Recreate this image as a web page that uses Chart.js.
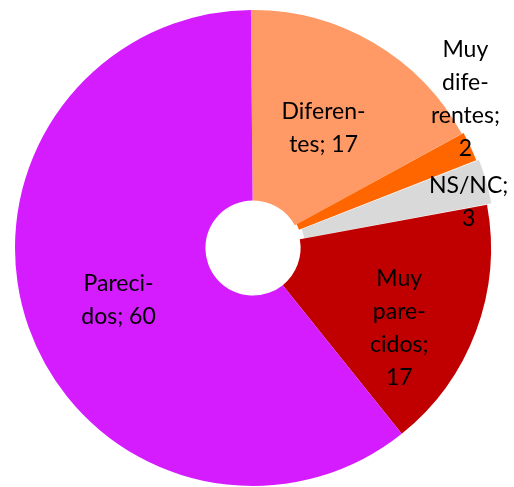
<!DOCTYPE html>
<html>
<head>
<meta charset="utf-8">
<script src="https://cdn.jsdelivr.net/npm/chart.js@4/dist/chart.umd.min.js"></script>
<style>
  html, body { margin: 0; padding: 0; background: #fff; }
  #wrap { width: 514px; height: 487px; position: relative; }
</style>
</head>
<body>
<div id="wrap"><canvas id="pieChart"></canvas></div>
<script>
// 데이터
const categories = ['Diferentes', 'Muy diferentes', 'NS/NC', 'Muy parecidos', 'Parecidos'];
const values = [17, 2, 3, 17, 60];
// 라벨 줄바꿈 ({v} 자리에 값이 들어감)
const labelLines = [
  ['Diferen-', 'tes; {v}'],
  ['Muy', 'dife-', 'rentes;', '{v}'],
  ['NS/NC;', '{v}'],
  ['Muy', 'pare-', 'cidos;', '{v}'],
  ['Pareci-', 'dos; {v}']
];

// 스타일
const sliceColors = ['#FF9966', '#FF6600', '#D9D9D9', '#C00000', '#D41CFF'];
const sliceOffsets = [0, 4, 10, 0, 0];
// 라벨 위치: 반지름 비율, 각도 보정(도)
const labelRadius = [0.586, 1.09, 0.926, 0.70, 0.606];
const labelAngleShift = [0, -10, 4, 8.2, -1.6];

const labelPlugin = {
  id: 'sliceLabels',
  afterDatasetsDraw(chart) {
    const ctx = chart.ctx;
    const arcs = chart.getDatasetMeta(0).data;
    ctx.save();
    ctx.font = '23px Lato';
    ctx.fillStyle = '#000';
    ctx.textAlign = 'center';
    ctx.textBaseline = 'middle';
    arcs.forEach((arc, i) => {
      const mid = (arc.startAngle + arc.endAngle) / 2 + labelAngleShift[i] * Math.PI / 180;
      const r = arc.outerRadius * labelRadius[i];
      const x = arc.x + Math.cos(mid) * r;
      const y = arc.y + Math.sin(mid) * r;
      const lines = labelLines[i].map(s => s.replace('{v}', values[i]));
      const lh = 33;
      const top = y - (lines.length - 1) * lh / 2;
      lines.forEach((s, k) => ctx.fillText(s, x, top + k * lh));
    });
    ctx.restore();
  }
};

new Chart(document.getElementById('pieChart'), {
  type: 'doughnut',
  data: {
    labels: categories,
    datasets: [{
      data: values,
      backgroundColor: sliceColors,
      borderWidth: 0,
      offset: sliceOffsets
    }]
  },
  options: {
    responsive: true,
    maintainAspectRatio: false,
    animation: false,
    radius: 238,
    cutout: '20%',
    rotation: -0.5,
    layout: { padding: { left: 0, right: 8, top: 9, bottom: 0 } },
    plugins: {
      legend: { display: false },
      tooltip: { enabled: false }
    }
  },
  plugins: [labelPlugin]
});
</script>
</body>
</html>
